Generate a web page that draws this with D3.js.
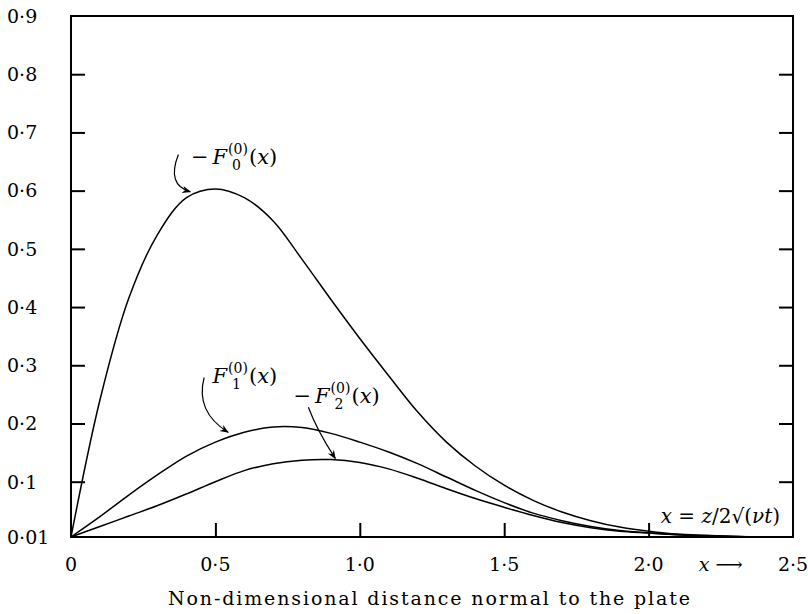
<!DOCTYPE html>
<meta charset="utf-8">
<html>
<head>
<script src="https://d3js.org/d3.v7.min.js"></script>
<style>
  body { margin: 0; background: white; }
  text { font-family: "DejaVu Serif", "Liberation Serif", serif; fill: black; }
</style>
</head>
<body>
<div id="chart"></div>
<script>
// values, x = z/2sqrt(nu t)
var xs = [0, 0.1, 0.2, 0.3, 0.4, 0.5, 0.6, 0.7, 0.8, 0.9, 1.0, 1.1, 1.2, 1.3,
          1.4, 1.5, 1.6, 1.7, 1.8, 1.9, 2.0, 2.1, 2.2, 2.3, 2.4, 2.5];
// -F0(0)(x)
var f0 = [0.005, 0.24, 0.415, 0.525, 0.588, 0.603, 0.588, 0.548, 0.482, 0.413, 0.346, 0.282, 0.22, 0.168,
          0.127, 0.094, 0.068, 0.048, 0.033, 0.022, 0.015, 0.01, 0.008, 0.006, 0.005, 0.005];
// F1(0)(x)
var f1 = [0.005, 0.04, 0.077, 0.112, 0.144, 0.168, 0.185, 0.194, 0.193, 0.183, 0.168, 0.151, 0.131, 0.108,
          0.085, 0.064, 0.046, 0.033, 0.023, 0.016, 0.012, 0.009, 0.007, 0.006, 0.005, 0.005];
// -F2(0)(x)
var f2 = [0.005, 0.023, 0.041, 0.059, 0.079, 0.1, 0.119, 0.131, 0.137, 0.138, 0.133, 0.122, 0.106, 0.088,
          0.071, 0.056, 0.042, 0.03, 0.021, 0.015, 0.012, 0.009, 0.007, 0.006, 0.005, 0.005];

var yTicks = [0.1, 0.2, 0.3, 0.4, 0.5, 0.6, 0.7, 0.8];
var yLabels = ["0·01", "0·1", "0·2", "0·3", "0·4", "0·5", "0·6", "0·7", "0·8", "0·9"];
var xTicks = [0.5, 1.0, 1.5, 2.0];
var xLabels = ["0", "0·5", "1·0", "1·5", "2·0", "2·5"];

var width = 808, height = 614;
var svg = d3.select("#chart").append("svg")
    .attr("width", width).attr("height", height);

var x = d3.scaleLinear().domain([0, 2.5]).range([71, 793]);
var y = d3.scaleLinear().domain([0.005, 0.9]).range([537, 16]);
var yLabelVals = [y.domain()[0]].concat(yTicks, [0.9]);
var xLabelVals = [0].concat(xTicks, [2.5]);

// ticks point inwards, no labels from the axis itself
svg.append("g").attr("transform", "translate(" + x(0) + ",0)")
    .call(d3.axisLeft(y).tickValues(yTicks).tickSize(-14).tickFormat(""))
    .call(g => g.select(".domain").remove());
svg.append("g").attr("transform", "translate(" + x(2.5) + ",0)")
    .call(d3.axisRight(y).tickValues(yTicks).tickSize(-14).tickFormat(""))
    .call(g => g.select(".domain").remove());
svg.append("g").attr("transform", "translate(0," + y(y.domain()[0]) + ")")
    .call(d3.axisBottom(x).tickValues(xTicks).tickSize(-14).tickFormat(""))
    .call(g => g.select(".domain").remove());
svg.selectAll(".tick line").attr("stroke", "black").attr("stroke-width", 2);

// frame
svg.append("rect")
    .attr("x", x(0)).attr("y", y(0.9))
    .attr("width", x(2.5) - x(0)).attr("height", y(y.domain()[0]) - y(0.9))
    .attr("fill", "none").attr("stroke", "black").attr("stroke-width", 2);

// tick labels
svg.selectAll(".ylab").data(yLabelVals).enter().append("text")
    .attr("x", 7).attr("y", d => y(d)).attr("dy", "0.36em")
    .style("font-size", "19px")
    .text((d, i) => yLabels[i]);
svg.selectAll(".xlab").data(xLabelVals).enter().append("text")
    .attr("x", d => x(d)).attr("y", 571)
    .attr("text-anchor", "middle")
    .style("font-size", "19px")
    .text((d, i) => xLabels[i]);

// curves
var line = d3.line()
    .x(d => x(d[0])).y(d => y(d[1]))
    .curve(d3.curveCatmullRom.alpha(0.5));
[f0, f1, f2].forEach(function(s) {
    svg.append("path")
        .datum(xs.map((v, i) => [v, s[i]]))
        .attr("d", line)
        .attr("fill", "none").attr("stroke", "black").attr("stroke-width", 1.5);
});

// arrowhead
svg.append("defs").append("marker")
    .attr("id", "arr").attr("viewBox", "0 0 10 10")
    .attr("refX", 9).attr("refY", 5)
    .attr("markerWidth", 9).attr("markerHeight", 9)
    .attr("orient", "auto").attr("markerUnits", "userSpaceOnUse")
  .append("path").attr("d", "M0,1 L10,5 L0,9 L3,5 Z").attr("fill", "black");

// label arrows, in data units: start, control, end
var arrows = [
    [[0.372, 0.662], [0.33, 0.61], [0.413, 0.598]],
    [[0.461, 0.279], [0.43, 0.22], [0.544, 0.185]],
    [[0.822, 0.228], [0.85, 0.19], [0.915, 0.14]]
];
arrows.forEach(function(a) {
    var p = d3.path();
    p.moveTo(x(a[0][0]), y(a[0][1]));
    p.quadraticCurveTo(x(a[1][0]), y(a[1][1]), x(a[2][0]), y(a[2][1]));
    svg.append("path").attr("d", p.toString())
        .attr("fill", "none").attr("stroke", "black").attr("stroke-width", 1.2)
        .attr("marker-end", "url(#arr)");
});

// math labels like "-F_0^(0)(x)", the F sits at (px, py)
function mathLabel(px, py, minus, sub) {
    var g = svg.append("g");
    if (minus) g.append("text").attr("x", px - 4).attr("y", py)
        .attr("text-anchor", "end").style("font-size", "21px").text("−");
    var t = g.append("text").attr("x", px).attr("y", py).style("font-size", "21px");
    t.append("tspan").style("font-style", "italic").text("F");
    var w = t.node().getComputedTextLength();
    var sup = g.append("text").attr("x", px + w + 1).attr("y", py - 10)
        .style("font-size", "14px").text("(0)");
    g.append("text").attr("x", px + w + 5).attr("y", py + 6)
        .style("font-size", "14px").text(sub);
    var ws = sup.node().getComputedTextLength();
    var t2 = g.append("text").attr("x", px + w + ws + 2).attr("y", py).style("font-size", "21px");
    t2.append("tspan").text("(");
    t2.append("tspan").style("font-style", "italic").text("x");
    t2.append("tspan").text(")");
}
mathLabel(x(0.49), y(0.645), true, "0");
mathLabel(x(0.49), y(0.27), false, "1");
mathLabel(x(0.845), y(0.235), true, "2");

// similarity variable
var sv = svg.append("text").attr("x", x(2.5) - 13).attr("y", 523)
    .attr("text-anchor", "end").style("font-size", "20px");
sv.append("tspan").style("font-style", "italic").text("x");
sv.append("tspan").text(" = ");
sv.append("tspan").style("font-style", "italic").text("z");
sv.append("tspan").text("/2√(");
sv.append("tspan").style("font-style", "italic").text("νt");
sv.append("tspan").text(")");

// x arrow near the axis end
var xa = svg.append("text").attr("x", x(2.25)).attr("y", 571)
    .attr("text-anchor", "middle").style("font-size", "19px");
xa.append("tspan").style("font-style", "italic").text("x");
xa.append("tspan").text(" ⟶");

// axis title
svg.append("text")
    .attr("x", (x(0) + x(2.5)) / 2 - 3).attr("y", 605)
    .attr("text-anchor", "middle")
    .attr("textLength", 522).attr("lengthAdjust", "spacing")
    .style("font-size", "19px")
    .text("Non-dimensional distance normal to the plate");
</script>
</body>
</html>
